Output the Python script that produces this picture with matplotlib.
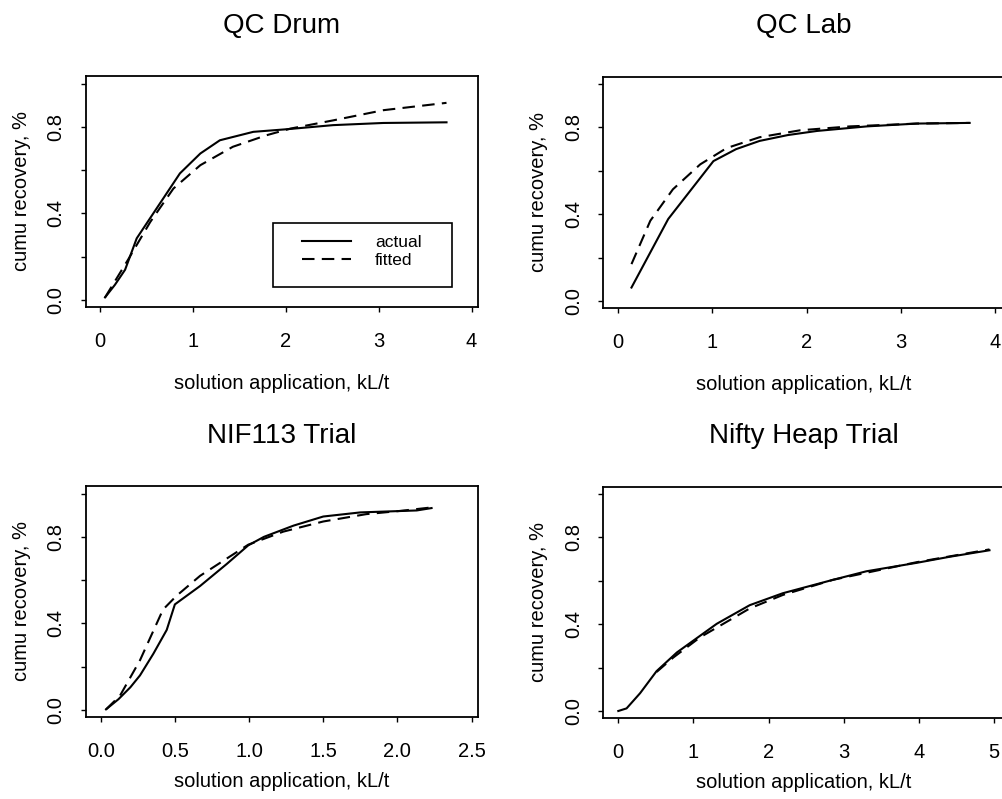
import matplotlib
matplotlib.use("Agg")
import matplotlib.pyplot as plt
from matplotlib.patches import Rectangle
from matplotlib.lines import Line2D

plt.rcParams['font.family'] = ['Liberation Sans', 'DejaVu Sans']

# ---------------- data ----------------
titles = ["QC Drum", "QC Lab", "NIF113 Trial", "Nifty Heap Trial"]
x_label = "solution application, kL/t"
y_label = "cumu recovery, %"
legend_labels = ["actual", "fitted"]

drum_actual_x = [0.054, 0.16, 0.27, 0.395, 0.86, 1.08, 1.29, 1.65, 2.01, 2.51, 3.05, 3.73]
drum_actual_y = [0.012, 0.07, 0.14, 0.285, 0.585, 0.677, 0.738, 0.777, 0.789, 0.808, 0.818, 0.821]
drum_fitted_x = [0.054, 0.30, 0.54, 0.79, 1.08, 1.43, 1.79, 2.05, 2.51, 3.05, 3.73]
drum_fitted_y = [0.012, 0.185, 0.36, 0.515, 0.623, 0.708, 0.761, 0.792, 0.83, 0.877, 0.911]

lab_actual_x = [0.14, 0.53, 1.01, 1.25, 1.5, 1.8, 2.11, 2.64, 3.17, 3.73]
lab_actual_y = [0.062, 0.378, 0.645, 0.70, 0.738, 0.765, 0.784, 0.805, 0.818, 0.821]
lab_fitted_x = [0.14, 0.34, 0.58, 0.87, 1.15, 1.50, 1.93, 2.46, 3.17, 3.73]
lab_fitted_y = [0.17, 0.37, 0.515, 0.63, 0.705, 0.755, 0.787, 0.805, 0.818, 0.821]

nif_actual_x = [0.036, 0.12, 0.20, 0.265, 0.355, 0.445, 0.50, 0.67, 0.85, 0.995, 1.10, 1.30, 1.50, 1.75, 2.13, 2.23]
nif_actual_y = [0.003, 0.05, 0.105, 0.16, 0.26, 0.37, 0.488, 0.573, 0.675, 0.761, 0.80, 0.852, 0.894, 0.913, 0.922, 0.933]
nif_fitted_x = [0.036, 0.13, 0.265, 0.42, 0.51, 0.67, 0.85, 0.995, 1.23, 1.50, 1.79, 2.02, 2.23]
nif_fitted_y = [0.003, 0.066, 0.23, 0.464, 0.527, 0.62, 0.70, 0.764, 0.824, 0.871, 0.905, 0.92, 0.936]

heap_actual_x = [0.0, 0.11, 0.29, 0.51, 0.78, 1.31, 1.75, 2.19, 2.86, 3.30, 3.97, 4.41, 4.94]
heap_actual_y = [0.0, 0.012, 0.082, 0.184, 0.27, 0.402, 0.488, 0.543, 0.605, 0.644, 0.683, 0.711, 0.741]
heap_fitted_x = [0.51, 0.73, 1.09, 1.75, 2.19, 2.86, 3.97, 4.94]
heap_fitted_y = [0.18, 0.246, 0.34, 0.473, 0.535, 0.605, 0.686, 0.745]

y_ticks = [0.0, 0.2, 0.4, 0.6, 0.8, 1.0]
y_tick_labels = ["0.0", "", "0.4", "", "0.8", ""]
x_ticks_4 = [0, 1, 2, 3, 4]
x_tick_labels_4 = ["0", "1", "2", "3", "4"]
x_ticks_25 = [0.0, 0.5, 1.0, 1.5, 2.0, 2.5]
x_tick_labels_25 = ["0.0", "0.5", "1.0", "1.5", "2.0", "2.5"]
x_ticks_5 = [0, 1, 2, 3, 4, 5]
x_tick_labels_5 = ["0", "1", "2", "3", "4", "5"]

# ---------------- layout ----------------
W, H = 1003, 799
fig = plt.figure(figsize=(W / 100, H / 100), dpi=100)


def axpos(l, r, t, b):
    return [l / W, 1 - b / H, (r - l) / W, (b - t) / H]


panels = [
    dict(pos=axpos(86, 478, 76, 306.5), xlim=(-0.151, 4.069), ticks=x_ticks_4, tl=x_tick_labels_4,
         ax_=drum_actual_x, ay=drum_actual_y, fx=drum_fitted_x, fy=drum_fitted_y, row=0),
    dict(pos=axpos(603.5, 1004.5, 76.5, 307.5), xlim=(-0.157, 4.10), ticks=x_ticks_4, tl=x_tick_labels_4,
         ax_=lab_actual_x, ay=lab_actual_y, fx=lab_fitted_x, fy=lab_fitted_y, row=0),
    dict(pos=axpos(86, 478, 486, 716.5), xlim=(-0.099, 2.543), ticks=x_ticks_25, tl=x_tick_labels_25,
         ax_=nif_actual_x, ay=nif_actual_y, fx=nif_fitted_x, fy=nif_fitted_y, row=1),
    dict(pos=axpos(603.5, 1004.5, 486.5, 717.5), xlim=(-0.197, 5.14), ticks=x_ticks_5, tl=x_tick_labels_5,
         ax_=heap_actual_x, ay=heap_actual_y, fx=heap_fitted_x, fy=heap_fitted_y, row=1),
]

DASH = (6, 3.5)
LW = 1.5
axes = []
for i, p in enumerate(panels):
    ax = fig.add_axes(p["pos"])
    axes.append(ax)
    ax.plot(p["ax_"], p["ay"], color="black", lw=LW, solid_joinstyle="round")
    ax.plot(p["fx"], p["fy"], color="black", lw=LW, linestyle=(0, DASH))
    ax.set_xlim(*p["xlim"])
    ax.set_ylim(-0.03, 1.035)
    ax.set_xticks(p["ticks"])
    ax.set_xticklabels(p["tl"])
    ax.set_yticks(y_ticks)
    ax.set_yticklabels(y_tick_labels, rotation=90, va="center")
    ax.tick_params(axis="both", direction="out", length=3.6, width=1.0, labelsize=14.5, colors="black")
    ax.tick_params(axis="x", pad=14.5)
    ax.tick_params(axis="y", pad=11)
    for s in ax.spines.values():
        s.set_linewidth(1.3)
    ax.set_title(titles[i], fontsize=20, pad=31)
    ax.set_ylabel(y_label, fontsize=14.5, va="center")
    ax.yaxis.set_label_coords(-64 / 392, 0.5)
    ax.set_xlabel(x_label, fontsize=14.5, va="top")
    if p["row"] == 0:
        ax.xaxis.set_label_coords(0.5, -(374 - 306.5) / 230)
    else:
        ax.xaxis.set_label_coords(0.5, -(772 - 716.5) / 230)

# legend in first panel: frame box plus legend entries
ax0 = axes[0]
ax0.add_patch(Rectangle(((273 - 86) / 392, (306.5 - 287) / 230.5), (452 - 273) / 392, (287 - 223) / 230.5,
                        transform=ax0.transAxes, fill=False, lw=1.2, edgecolor="black"))
handles = [Line2D([], [], color="black", lw=LW),
           Line2D([], [], color="black", lw=LW, linestyle=(0, DASH))]
ax0.legend(handles, legend_labels, frameon=False, loc="center left",
           bbox_to_anchor=((302 - 86) / 392, (306.5 - 251.5) / 230.5),
           borderpad=0, borderaxespad=0, handlelength=2.8, handletextpad=1.4,
           labelspacing=0.2, fontsize=12.5)

fig.savefig("out.png", dpi=100)
